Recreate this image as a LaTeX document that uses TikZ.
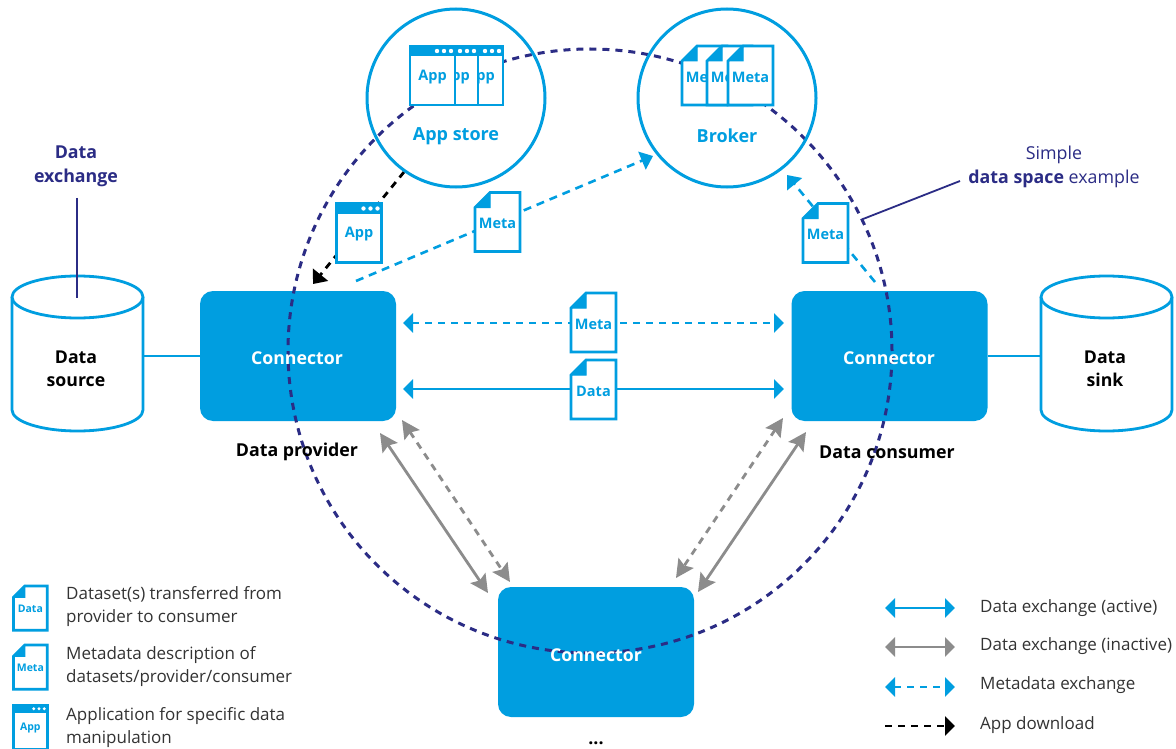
\documentclass[tikz,border=0pt]{standalone}
\usepackage{fontspec}
\setmainfont{Open Sans}
\usetikzlibrary{arrows.meta}
\definecolor{ids}{HTML}{009EE0}
\definecolor{idsdark}{HTML}{2B2C85}
\definecolor{idsgray}{HTML}{8C8C8C}
\definecolor{idstext}{HTML}{333333}
\newcommand{\fs}[1]{\fontsize{#1}{23}\selectfont}
\newcommand{\docicon}[6]{% name,x,y,scale,fontsize,text
  \begin{scope}[shift={(#2,#3)},scale=#4]
    \draw[iconline,fill=white] (15,0)--(45,0)--(45,59)--(0,59)--(0,15)--cycle;
    \fill[ids,draw=ids,line width=1pt] (15,0)--(15,15)--(0,15)--cycle;
    \node[icontext,font=\bfseries\fs{#5}] (#1) at (22.5,31) {#6};
  \end{scope}}
\newcommand{\appicon}[6]{%
  \begin{scope}[shift={(#2,#3)},scale=#4]
    \draw[iconline,fill=white] (0,0) rectangle (45,59);
    \fill[ids] (0,0) rectangle (45,10);
    \foreach \d in {27,34,41}{\fill[white] (\d,5) circle (2.2pt);}
    \node[icontext,font=\bfseries\fs{#5}] (#1) at (22.5,31) {#6};
  \end{scope}}
\newcommand{\cyl}[3]{% x, name, label
  \draw[iconline,fill=white] (#1,297) -- (#1,410) arc[start angle=180,end angle=360,x radius=65.5pt,y radius=21pt] -- (#1+131,297);
  \draw[iconline,fill=white] (#1+65.5,297) ellipse[x radius=65.5pt,y radius=21pt];
  \node[black,align=center,font=\bfseries\fs{17.7}] (#2) at (#1+64,369) {#3};}
\tikzset{
  iconline/.style={draw=ids,line width=2.8pt,line join=miter},
  icontext/.style={text=ids,inner sep=0pt},
  connbox/.style={fill=ids,rounded corners=13pt,minimum width=196pt,minimum height=130pt,inner sep=0pt},
  conntext/.style={text=white,font=\bfseries\fs{17.7}},
  circ/.style={draw=ids,line width=3pt},
  circtext/.style={text=ids,font=\bfseries\fs{18}},
  active/.style={draw=ids,line width=2.4pt,{Triangle[length=10pt,width=19pt]}-{Triangle[length=10pt,width=19pt]}},
  meta/.style={draw=ids,line width=2.4pt,dash pattern=on 7pt off 6pt,{Triangle[length=10pt,width=19pt]}-{Triangle[length=10pt,width=19pt]}},
  metaone/.style={draw=ids,line width=2.6pt,dash pattern=on 8pt off 6pt,-{Triangle[length=12pt,width=19pt]}},
  grayl/.style={draw=idsgray,line width=2.8pt,{Stealth[length=18pt,width=18pt,inset=3pt]}-{Stealth[length=18pt,width=18pt,inset=3pt]}},
  graydash/.style={grayl,dash pattern=on 7pt off 6pt},
  dl/.style={draw=black,line width=2.8pt,dash pattern=on 7pt off 6pt,-{Triangle[length=12pt,width=19pt]}},
  legtext/.style={text=idstext,anchor=west,align=left,font=\fs{17},inner sep=0pt},
  dark/.style={text=idsdark,align=center,font=\fontsize{17.8}{24}\selectfont},
  lab/.style={text=black,font=\bfseries\fs{17.8}},
}
\begin{document}
\begin{tikzpicture}[x=1pt,y=-1pt]
\useasboundingbox (0,0) rectangle (1176,749);
\fill[white] (0,0) rectangle (1176,749);
% connector boxes
\node[connbox] (cl) at (298,356) {};
\node[connbox] (cr) at (889.5,356) {};
\node[connbox] (cb) at (596,652) {};
% cylinders
\cyl{12}{src}{Data\\source}
\cyl{1041}{snk}{Data\\sink}
\coordinate (sr) at (144,356); \coordinate (sk) at (1041,356);
\draw[iconline] (sr) -- (cl.west);
\draw[iconline] (cr.east) -- (sk);
% free ends
\coordinate (mh1) at (403,323); \coordinate (mh2) at (784,323);
\coordinate (dh1) at (403,389); \coordinate (dh2) at (784,389);
\coordinate (gl1) at (380,433); \coordinate (gl2) at (488,593);
\coordinate (gd1) at (402,420); \coordinate (gd2) at (510,582);
\coordinate (gr1) at (806,432); \coordinate (gr2) at (698,592);
\coordinate (ge1) at (783,418); \coordinate (ge2) at (676,578);
\coordinate (ds) at (404,172); \coordinate (de) at (313,284);
\coordinate (ms) at (356,281); \coordinate (me) at (653,156);
\coordinate (ns) at (875,282); \coordinate (ne) at (787,175);
\draw[meta] (mh1) -- (mh2);
\draw[active] (dh1) -- (dh2);
\draw[grayl] (gl1) -- (gl2);
\draw[graydash] (gd1) -- (gd2);
\draw[grayl] (gr1) -- (gr2);
\draw[graydash] (ge1) -- (ge2);
\draw[dl] (ds) -- (de);
\draw[metaone] (ms) -- (me);
\draw[metaone] (ns) -- (ne);
% big dashed circle
\node[draw=idsdark,line width=3pt,dash pattern=on 7pt off 6pt,circle,minimum size=604pt,inner sep=0pt] (big) at (590,351) {};
% connector texts
\node[conntext] (clt) at (297,358) {Connector};
\node[conntext] (crt) at (889,358) {Connector};
\node[conntext] (cbt) at (596,655) {Connector};
% small circles
\node[circ,circle,minimum size=178pt,inner sep=0pt] (as) at (456,98) {};
\node[circ,circle,minimum size=178pt,inner sep=0pt] (br) at (727,98) {};
\node[circtext] (ast) at (456,136) {App store};
\node[circtext] (brt) at (727,136) {Broker};
% icons
\appicon{a3}{458}{46}{1}{14.5}{App}
\appicon{a2}{433}{46}{1}{14.5}{App}
\appicon{a1}{410}{46}{1}{14.5}{App}
\docicon{m1}{682}{46}{1}{14.5}{Meta}
\docicon{m2}{707}{46}{1}{14.5}{Meta}
\docicon{m3}{728}{46}{1}{14.5}{Meta}
\appicon{a4}{336.5}{203.5}{1}{14.5}{App}
\docicon{m4}{475}{192.5}{1}{14.5}{Meta}
\docicon{m5}{803}{203.5}{1}{14.5}{Meta}
\docicon{m6}{571}{293}{1}{14.5}{Meta}
\docicon{d1}{571}{360}{1}{14.5}{Data}
% labels
\node[dark,font=\bfseries\fontsize{17.8}{24}\selectfont] (dx) at (76,166) {Data\\exchange};
\coordinate (dxe) at (77,298);
\coordinate (dxs) at (77,198);
\draw[idsdark,line width=1.8pt] (dxs) -- (dxe);
\node[dark] (dsp) at (1054,167) {Simple\\\textbf{data space} example};
\coordinate (sa) at (960,181); \coordinate (sb) at (863,219);
\draw[idsdark,line width=1.8pt] (sa) -- (sb);
\node[lab] (pv) at (297,452) {Data provider};
\node[lab] (cs) at (887,452) {Data consumer};
\node[lab] (dots) at (596,743) {...};
% legend left
\docicon{l1}{13.5}{586}{0.75}{10.5}{Data}
\docicon{l2}{13.5}{645}{0.75}{10.5}{Meta}
\appicon{l3}{13.5}{705}{0.75}{10.5}{App}
\node[legtext] (lt1) at (66,607) {Dataset(s) transferred from\\provider to consumer};
\node[legtext] (lt2) at (66,667) {Metadata description of\\datasets/provider/consumer};
\node[legtext] (lt3) at (66,728) {Application for specific data\\manipulation};
% legend right
\coordinate (k1a) at (885,608); \coordinate (k1b) at (955,608);
\coordinate (k2a) at (885,647); \coordinate (k2b) at (955,647);
\coordinate (k3a) at (885,687); \coordinate (k3b) at (955,687);
\coordinate (k4a) at (885,726); \coordinate (k4b) at (955,726);
\draw[active] (k1a) -- (k1b);
\draw[draw=idsgray,line width=2.4pt,{Triangle[length=10pt,width=19pt]}-{Triangle[length=10pt,width=19pt]}] (k2a) -- (k2b);
\draw[meta] (k3a) -- (k3b);
\draw[draw=black,line width=2.4pt,dash pattern=on 7pt off 6pt,-{Triangle[length=10pt,width=19pt]}] (k4a) -- (k4b);
\node[legtext] (kt1) at (980,608) {Data exchange (active)};
\node[legtext] (kt2) at (980,646.5) {Data exchange (inactive)};
\node[legtext] (kt3) at (980,685) {Metadata exchange};
\node[legtext] (kt4) at (980,725.5) {App download};
\end{tikzpicture}
\end{document}
